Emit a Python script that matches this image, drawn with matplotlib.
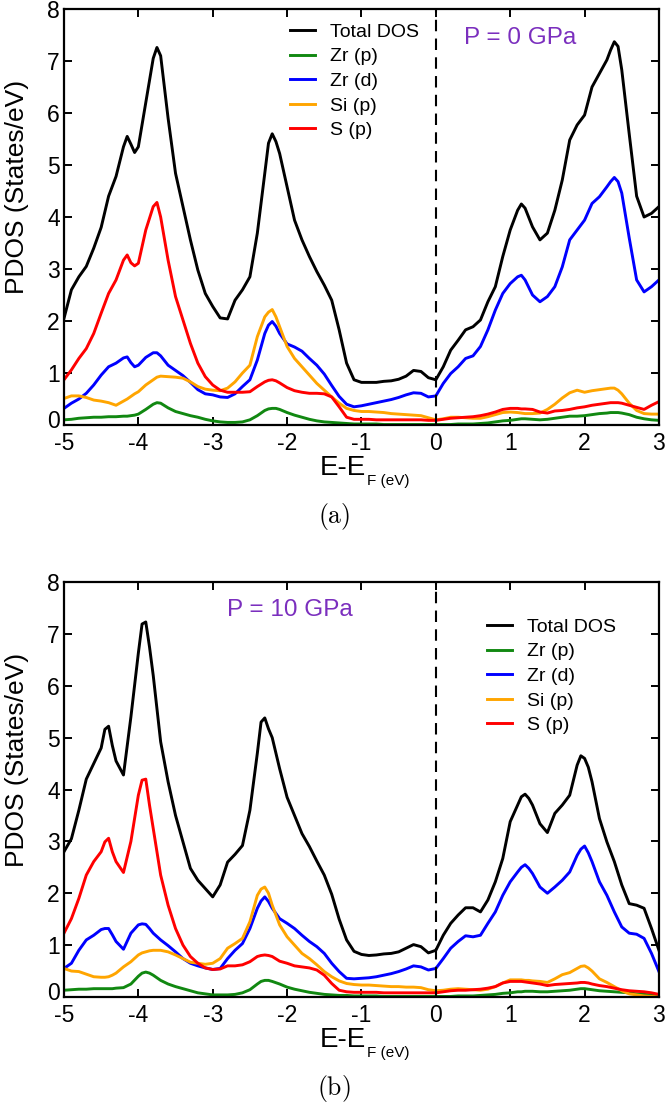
import numpy as np
import matplotlib
matplotlib.use("Agg")
import matplotlib.pyplot as plt
import matplotlib.transforms as mtransforms

plt.rcParams['font.family'] = ['Liberation Sans', 'DejaVu Sans']
plt.rcParams['axes.unicode_minus'] = False
plt.rcParams['mathtext.fontset'] = 'cm'

# ---- P = 0 GPa ----
e_a = [-5.0, -4.9, -4.8, -4.7, -4.6, -4.5, -4.4, -4.3, -4.2, -4.15,
       -4.1, -4.05, -4.0, -3.9, -3.8, -3.75, -3.7, -3.6, -3.5, -3.4,
       -3.3, -3.2, -3.1, -3.0, -2.9, -2.8, -2.7, -2.6, -2.5, -2.4,
       -2.3, -2.2, -2.1, -2.0, -1.9, -1.8, -1.7, -1.6, -1.5, -1.4,
       -1.3, -1.2, -1.1, -1.0, -0.9, -0.8, -0.7, -0.6, -0.5, -0.4,
       -0.3, -0.2, -0.1, 0.0, 0.1, 0.2, 0.3, 0.4, 0.5, 0.6,
       0.7, 0.8, 0.9, 1.0, 1.1, 1.15, 1.2, 1.3, 1.4, 1.5,
       1.6, 1.7, 1.8, 1.9, 2.0, 2.1, 2.2, 2.3, 2.4, 2.5,
       2.6, 2.7, 2.8, 2.9, 3.0]
tot_a = [2.05, 2.6, 2.85, 3.05, 3.4, 3.8, 4.4, 4.78, 5.35, 5.55,
         5.4, 5.24, 5.35, 6.2, 7.05, 7.26, 7.1, 5.9, 4.84, 4.2,
         3.56, 2.98, 2.53, 2.28, 2.06, 2.04, 2.4, 2.6, 2.85, 3.69,
         4.84, 5.6, 5.22, 4.58, 3.94, 3.56, 3.24, 2.95, 2.69, 2.4,
         1.83, 1.19, 0.87, 0.82, 0.82, 0.82, 0.84, 0.85, 0.88, 0.94,
         1.05, 1.03, 0.91, 0.87, 1.12, 1.44, 1.63, 1.83, 1.89, 2.02,
         2.37, 2.66, 3.24, 3.75, 4.13, 4.25, 4.17, 3.81, 3.56, 3.69,
         4.13, 4.71, 5.48, 5.77, 5.96, 6.5, 6.76, 7.02, 7.37, 6.83,
         5.6, 4.4, 4.0, 4.07, 4.2]
zrp_a = [0.10, 0.11, 0.13, 0.14, 0.15, 0.15, 0.16, 0.16, 0.17, 0.17,
         0.18, 0.19, 0.21, 0.30, 0.40, 0.43, 0.42, 0.33, 0.26, 0.22,
         0.18, 0.15, 0.11, 0.08, 0.06, 0.05, 0.05, 0.06, 0.10, 0.18,
         0.28, 0.32, 0.30, 0.24, 0.19, 0.15, 0.11, 0.08, 0.06, 0.05,
         0.04, 0.03, 0.02, 0.02, 0.02, 0.02, 0.01, 0.01, 0.01, 0.01,
         0.01, 0.01, 0.01, 0.01, 0.01, 0.01, 0.02, 0.02, 0.02, 0.03,
         0.04, 0.06, 0.08, 0.09, 0.11, 0.12, 0.12, 0.11, 0.10, 0.11,
         0.13, 0.15, 0.17, 0.17, 0.18, 0.20, 0.22, 0.23, 0.24, 0.23,
         0.20, 0.15, 0.12, 0.10, 0.09]
zrd_a = [0.32, 0.42, 0.50, 0.61, 0.77, 0.96, 1.12, 1.19, 1.29, 1.31,
         1.20, 1.12, 1.15, 1.30, 1.39, 1.39, 1.33, 1.15, 1.05, 0.95,
         0.82, 0.68, 0.60, 0.58, 0.54, 0.53, 0.60, 0.74, 0.87, 1.25,
         1.76, 1.99, 1.76, 1.56, 1.50, 1.42, 1.28, 1.15, 0.98, 0.76,
         0.55, 0.40, 0.35, 0.37, 0.40, 0.43, 0.46, 0.49, 0.53, 0.58,
         0.62, 0.61, 0.54, 0.56, 0.80, 0.99, 1.12, 1.28, 1.33, 1.51,
         1.83, 2.21, 2.53, 2.72, 2.85, 2.88, 2.79, 2.50, 2.37, 2.47,
         2.66, 3.04, 3.56, 3.75, 3.94, 4.26, 4.39, 4.58, 4.76, 4.46,
         3.60, 2.79, 2.56, 2.66, 2.79]
sip_a = [0.51, 0.56, 0.56, 0.53, 0.48, 0.46, 0.43, 0.38, 0.46, 0.50,
         0.55, 0.60, 0.64, 0.77, 0.87, 0.92, 0.94, 0.93, 0.92, 0.90,
         0.83, 0.74, 0.69, 0.67, 0.66, 0.71, 0.83, 1.00, 1.15, 1.70,
         2.08, 2.22, 1.89, 1.51, 1.28, 1.12, 0.96, 0.80, 0.67, 0.54,
         0.42, 0.32, 0.28, 0.26, 0.26, 0.25, 0.24, 0.22, 0.21, 0.20,
         0.19, 0.18, 0.14, 0.10, 0.12, 0.15, 0.15, 0.14, 0.13, 0.13,
         0.16, 0.20, 0.24, 0.25, 0.24, 0.23, 0.22, 0.22, 0.23, 0.30,
         0.40, 0.52, 0.62, 0.67, 0.63, 0.66, 0.68, 0.70, 0.71, 0.60,
         0.42, 0.28, 0.22, 0.21, 0.21]
sp_a = [0.87, 1.06, 1.28, 1.47, 1.76, 2.15, 2.53, 2.79, 3.17, 3.27,
        3.12, 3.06, 3.11, 3.75, 4.20, 4.28, 4.00, 3.17, 2.47, 2.02,
        1.57, 1.19, 0.93, 0.77, 0.67, 0.63, 0.63, 0.63, 0.64, 0.74,
        0.83, 0.87, 0.81, 0.72, 0.66, 0.63, 0.61, 0.61, 0.60, 0.54,
        0.35, 0.15, 0.11, 0.11, 0.11, 0.10, 0.10, 0.10, 0.10, 0.10,
        0.10, 0.10, 0.09, 0.09, 0.11, 0.13, 0.14, 0.15, 0.16, 0.18,
        0.21, 0.25, 0.30, 0.32, 0.32, 0.31, 0.31, 0.30, 0.25, 0.23,
        0.27, 0.28, 0.30, 0.33, 0.35, 0.38, 0.40, 0.42, 0.43, 0.42,
        0.38, 0.34, 0.30, 0.38, 0.45]
# extra samples around the sharper peaks
e_a_pk = [-2.25, -2.15, 2.35, 2.45]
tot_a_pk = [5.42, 5.45, 7.21, 7.28]
zrp_a_pk = [0.31, 0.32, 0.24, 0.24]
zrd_a_pk = [1.92, 1.90, 4.68, 4.68]
sip_a_pk = [2.17, 2.08, 0.71, 0.67]
sp_a_pk = [0.86, 0.85, 0.43, 0.43]

# ---- P = 10 GPa (0.1 eV grid) ----
e_b = np.linspace(-5.0, 3.0, 81)
tot_b = [2.8, 3.05, 3.6, 4.2, 4.5, 4.8, 5.22, 4.55, 4.28, 5.4,
         6.63, 7.23, 6.2, 4.92, 4.15, 3.5, 2.99, 2.48, 2.25, 2.09,
         1.93, 2.16, 2.6, 2.75, 2.92, 3.6, 4.7, 5.38, 5.0, 4.4,
         3.85, 3.5, 3.15, 2.9, 2.62, 2.35, 1.98, 1.5, 1.1, 0.88,
         0.82, 0.8, 0.81, 0.83, 0.84, 0.87, 0.94, 1.01, 0.97, 0.85,
         0.9, 1.19, 1.42, 1.58, 1.72, 1.72, 1.64, 1.87, 2.22, 2.67,
         3.38, 3.7, 3.91, 3.7, 3.34, 3.17, 3.54, 3.7, 3.89, 4.47,
         4.6, 4.15, 3.44, 2.99, 2.61, 2.16, 1.8, 1.77, 1.71, 1.32,
         0.9]
zrp_b = [0.13, 0.14, 0.15, 0.15, 0.16, 0.16, 0.16, 0.17, 0.18, 0.25,
         0.40, 0.48, 0.42, 0.32, 0.25, 0.20, 0.16, 0.12, 0.08, 0.06,
         0.04, 0.04, 0.04, 0.05, 0.08, 0.14, 0.25, 0.32, 0.30, 0.25,
         0.19, 0.15, 0.12, 0.09, 0.07, 0.05, 0.04, 0.03, 0.03, 0.02,
         0.02, 0.02, 0.02, 0.01, 0.01, 0.01, 0.01, 0.01, 0.01, 0.01,
         0.01, 0.01, 0.01, 0.02, 0.02, 0.02, 0.03, 0.04, 0.05, 0.07,
         0.08, 0.10, 0.11, 0.11, 0.10, 0.10, 0.11, 0.12, 0.13, 0.15,
         0.16, 0.14, 0.12, 0.11, 0.10, 0.09, 0.08, 0.06, 0.05, 0.04,
         0.03]
zrd_b = [0.55, 0.65, 0.90, 1.10, 1.19, 1.30, 1.32, 1.07, 0.92, 1.23,
         1.39, 1.40, 1.23, 1.10, 0.99, 0.87, 0.74, 0.65, 0.60, 0.56,
         0.53, 0.55, 0.74, 0.90, 1.03, 1.32, 1.71, 1.93, 1.71, 1.51,
         1.42, 1.32, 1.19, 1.07, 0.97, 0.84, 0.65, 0.49, 0.36, 0.35,
         0.36, 0.37, 0.39, 0.42, 0.45, 0.49, 0.54, 0.60, 0.58, 0.52,
         0.55, 0.74, 0.94, 1.07, 1.18, 1.16, 1.19, 1.42, 1.64, 1.96,
         2.22, 2.41, 2.55, 2.38, 2.12, 2.00, 2.12, 2.25, 2.41, 2.73,
         2.91, 2.61, 2.22, 1.96, 1.64, 1.35, 1.23, 1.21, 1.13, 0.84,
         0.49]
sip_b = [0.55, 0.50, 0.49, 0.44, 0.39, 0.38, 0.39, 0.46, 0.58, 0.68,
         0.81, 0.87, 0.90, 0.90, 0.87, 0.81, 0.74, 0.67, 0.65, 0.63,
         0.65, 0.74, 0.94, 1.03, 1.13, 1.45, 1.96, 2.12, 1.77, 1.39,
         1.16, 1.00, 0.84, 0.74, 0.62, 0.49, 0.39, 0.31, 0.26, 0.24,
         0.23, 0.23, 0.22, 0.21, 0.20, 0.20, 0.19, 0.19, 0.18, 0.14,
         0.12, 0.13, 0.15, 0.16, 0.15, 0.14, 0.13, 0.15, 0.20, 0.27,
         0.33, 0.33, 0.32, 0.31, 0.30, 0.28, 0.35, 0.43, 0.47, 0.55,
         0.60, 0.50, 0.35, 0.28, 0.20, 0.12, 0.06, 0.04, 0.02, 0.01,
         0.00]
sp_b = [1.23, 1.51, 1.90, 2.35, 2.61, 2.80, 3.06, 2.61, 2.40, 3.00,
        3.89, 4.20, 3.25, 2.35, 1.77, 1.32, 1.00, 0.78, 0.65, 0.56,
        0.53, 0.54, 0.60, 0.60, 0.62, 0.68, 0.78, 0.81, 0.78, 0.69,
        0.65, 0.60, 0.58, 0.56, 0.52, 0.42, 0.26, 0.13, 0.10, 0.09,
        0.09, 0.09, 0.09, 0.08, 0.08, 0.08, 0.08, 0.08, 0.08, 0.08,
        0.08, 0.10, 0.12, 0.13, 0.13, 0.14, 0.15, 0.17, 0.20, 0.27,
        0.30, 0.30, 0.29, 0.27, 0.25, 0.22, 0.24, 0.25, 0.26, 0.27,
        0.28, 0.25, 0.22, 0.20, 0.17, 0.14, 0.12, 0.11, 0.10, 0.08,
        0.05]
e_b_pk = [-4.45, -4.35, -3.95, -3.85, -2.35, -2.25, 1.15, 1.25, 1.95, 2.05]
tot_b_pk = [5.16, 4.85, 7.19, 6.75, 5.30, 5.17, 3.86, 3.83, 4.65, 4.43]
zrp_b_pk = [0.16, 0.16, 0.46, 0.46, 0.30, 0.32, 0.10, 0.11, 0.16, 0.15]
zrd_b_pk = [1.32, 1.20, 1.41, 1.32, 1.85, 1.84, 2.50, 2.48, 2.85, 2.78]
sip_b_pk = [0.38, 0.42, 0.85, 0.89, 2.08, 2.00, 0.33, 0.32, 0.59, 0.56]
sp_b_pk = [2.99, 2.80, 4.18, 3.70, 0.80, 0.80, 0.30, 0.28, 0.28, 0.27]

labels = ['Total DOS', 'Zr (p)', 'Zr (d)', 'Si (p)', 'S (p)']
colors = ['black', '#118811', '#0000ff', '#ffa500', '#ff0000']
pressures = ['P = 0 GPa', 'P = 10 GPa']
captions = [r'$\mathrm{(a)}$', r'$\mathrm{(b)}$']


def merged(e, y, e_pk, y_pk):
    """Join the regular samples with the extra peak samples, sorted by energy."""
    x = np.concatenate([np.asarray(e, float), np.asarray(e_pk, float)])
    v = np.concatenate([np.asarray(y, float), np.asarray(y_pk, float)])
    order = np.argsort(x, kind='stable')
    return x[order], v[order]


fig = plt.figure(figsize=(6.65, 11.08), dpi=100)
ax_a = fig.add_axes([0.0962, 0.6164, 0.8947, 0.3755])
ax_b = fig.add_axes([0.0962, 0.1002, 0.8947, 0.3745])

panels = [
    (ax_a, e_a, [tot_a, zrp_a, zrd_a, sip_a, sp_a],
     e_a_pk, [tot_a_pk, zrp_a_pk, zrd_a_pk, sip_a_pk, sp_a_pk],
     (0.38, 0.966), (0.766, 0.93)),
    (ax_b, e_b, [tot_b, zrp_b, zrd_b, sip_b, sp_b],
     e_b_pk, [tot_b_pk, zrp_b_pk, zrd_b_pk, sip_b_pk, sp_b_pk],
     (0.711, 0.913), (0.38, 0.933)),
]

# lift the "0" on the y axis a little so it clears the "-5" below it
lift = mtransforms.ScaledTranslation(0, 4 / 72, fig.dpi_scale_trans)

for i, (ax, e, series, e_pk, series_pk, leg_pos, p_pos) in enumerate(panels):
    for y, y_pk, lab, c in zip(series, series_pk, labels, colors):
        assert len(y) == len(e) and len(y_pk) == len(e_pk)
        x, v = merged(e, y, e_pk, y_pk)
        ax.plot(x, v, color=c, lw=2.1, label=lab, solid_joinstyle='round')
    ax.axvline(0, color='black', lw=1.5, ls=(0, (5.5, 3.5)))
    ax.set_xlim(-5, 3)
    ax.set_ylim(0, 8)
    ax.set_xticks(range(-5, 4))
    ax.set_yticks(range(0, 9))
    ax.tick_params(direction='in', length=6, width=1.4, top=True, right=True,
                   labelsize=16.5)
    ax.tick_params(axis='x', pad=5)
    ax.tick_params(axis='y', pad=3)
    zero_lab = ax.yaxis.get_major_ticks()[0].label1
    zero_lab.set_transform(zero_lab.get_transform() + lift)
    for s in ax.spines.values():
        s.set_linewidth(1.6)
    ax.set_ylabel('PDOS (States/eV)', fontsize=19)
    ax.yaxis.set_label_coords(-0.058, 0.572)
    # x label: "E-E" with a small "F (eV)" subscript
    ax.text(0.5076, -0.120, 'E-E', transform=ax.transAxes, fontsize=20,
            ha='right', va='baseline')
    ax.text(0.5093, -0.144, 'F (eV)', transform=ax.transAxes, fontsize=11,
            ha='left', va='baseline')
    ax.legend(loc='upper left', bbox_to_anchor=leg_pos, frameon=False,
              fontsize=14, handlelength=1.3, handletextpad=0.75,
              labelspacing=0.36, borderpad=0, borderaxespad=0)
    ax.text(p_pos[0], p_pos[1], pressures[i], transform=ax.transAxes,
            fontsize=17.5, color='#7b2fbe', ha='center', va='center')

fig.text(334 / 665, 1 - 516 / 1108, captions[0], fontsize=18.5,
         ha='center', va='center')
fig.text(334 / 665, 1 - 1088 / 1108, captions[1], fontsize=18.5,
         ha='center', va='center')

fig.savefig('out.png', dpi=100)
